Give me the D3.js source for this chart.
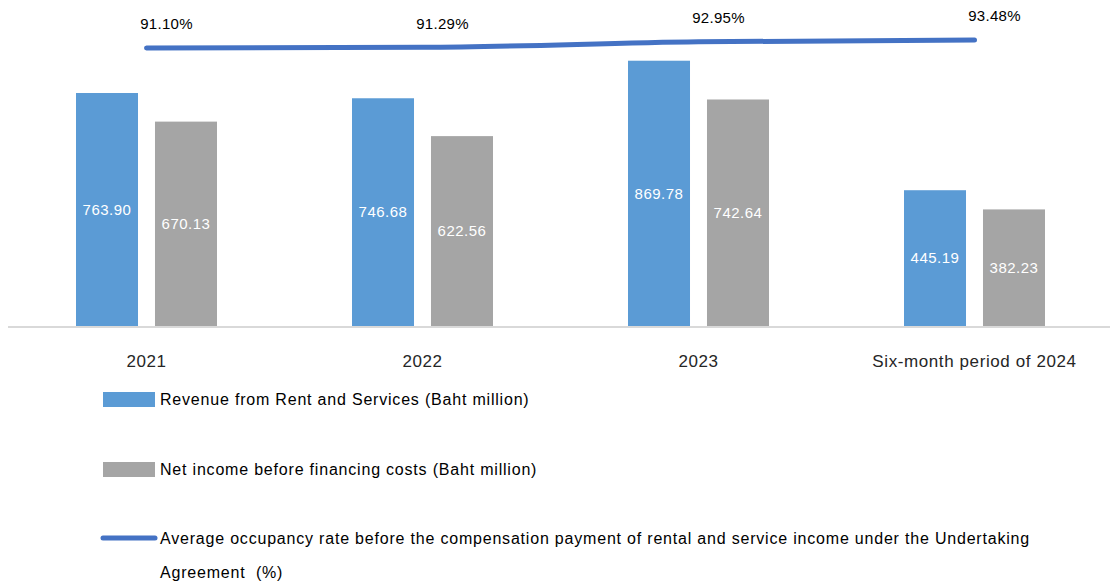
<!DOCTYPE html>
<meta charset="utf-8">
<style>
body { margin: 0; background: #fff; }
text { font-family: "Liberation Sans", Arial, sans-serif; }
</style>
<body>
<div id="chart"></div>
<script src="https://d3js.org/d3.v7.min.js"></script>
<script>
var width = 1110, height = 586;

// data
var categories = ["2021", "2022", "2023", "Six-month period of 2024"];
var revenue = [763.90, 746.68, 869.78, 445.19];
var netIncome = [670.13, 622.56, 742.64, 382.23];
var occupancy = [91.10, 91.29, 92.95, 93.48];
var legendLabels = [
  "Revenue from Rent and Services (Baht million)",
  "Net income before financing costs (Baht million)",
  ["Average occupancy rate before the compensation payment of rental and service income under the Undertaking",
   "Agreement  (%)"]
];

var blue = "#5b9bd5", grey = "#a5a5a5", lineBlue = "#4472c4";

var svg = d3.select("#chart").append("svg")
    .attr("width", width)
    .attr("height", height);

var x0 = d3.scaleBand()
    .domain(categories)
    .range([8.5, 1112.5]);

var x1 = d3.scaleBand()
    .domain(["rev", "net"])
    .range([x0.bandwidth() / 2 - 70.5, x0.bandwidth() / 2 + 70.5])
    .paddingInner(0.215);

var y = d3.scaleLinear()
    .domain([0, 1000])
    .range([326, 21]);

var y2 = d3.scaleLinear()
    .domain([90, 95])
    .range([51.7, 34.9]);

var rows = categories.map(function(c, i) {
  return { cat: c, rev: revenue[i], net: netIncome[i], occ: occupancy[i] };
});

// baseline
svg.append("line")
    .attr("x1", 8).attr("x2", 1110)
    .attr("y1", y(0) + 1).attr("y2", y(0) + 1)
    .attr("stroke", "#d9d9d9")
    .attr("stroke-width", 2);

var groups = svg.selectAll("g.cat")
  .data(rows)
  .enter().append("g")
    .attr("class", "cat")
    .attr("transform", function(d) { return "translate(" + x0(d.cat) + ",0)"; });

var series = [{ key: "rev", color: blue }, { key: "net", color: grey }];

series.forEach(function(s) {
  groups.append("rect")
      .attr("x", x1(s.key))
      .attr("width", x1.bandwidth())
      .attr("y", function(d) { return y(d[s.key]); })
      .attr("height", function(d) { return y(0) - y(d[s.key]); })
      .attr("fill", s.color);

  groups.append("text")
      .attr("x", x1(s.key) + x1.bandwidth() / 2)
      .attr("y", function(d) { return (y(d[s.key]) + y(0)) / 2; })
      .attr("dy", "0.35em")
      .attr("text-anchor", "middle")
      .attr("fill", "#fff")
      .attr("font-size", 15)
      .attr("letter-spacing", 0.5)
      .text(function(d) { return d[s.key].toFixed(2); });
});

// category labels
svg.selectAll("text.cat")
  .data(categories)
  .enter().append("text")
    .attr("class", "cat")
    .attr("x", function(d) { return x0(d) + x0.bandwidth() / 2; })
    .attr("y", 361)
    .attr("dy", "0.35em")
    .attr("text-anchor", "middle")
    .attr("fill", "#262626")
    .attr("font-size", 17)
    .attr("letter-spacing", 0.6)
    .text(function(d) { return d; });

// occupancy line
var line = d3.line()
    .x(function(d) { return x0(d.cat) + x0.bandwidth() / 2; })
    .y(function(d) { return y2(d.occ); })
    .curve(d3.curveMonotoneX);

svg.append("path")
    .datum(rows)
    .attr("d", line)
    .attr("fill", "none")
    .attr("stroke", lineBlue)
    .attr("stroke-width", 5)
    .attr("stroke-linecap", "round");

svg.selectAll("text.occ")
  .data(rows)
  .enter().append("text")
    .attr("class", "occ")
    .attr("x", function(d) { return x0(d.cat) + x0.bandwidth() / 2 + 20; })
    .attr("y", function(d) { return y2(d.occ) - 24; })
    .attr("dy", "0.35em")
    .attr("text-anchor", "middle")
    .attr("fill", "#000")
    .attr("font-size", 15)
    .attr("letter-spacing", 0.3)
    .text(function(d) { return d.occ.toFixed(2) + "%"; });

// legend
var legend = svg.append("g");
var legendY = [399, 469, 538];

legend.append("rect")
    .attr("x", 103).attr("y", legendY[0] - 7)
    .attr("width", 52).attr("height", 15)
    .attr("fill", blue);
legend.append("rect")
    .attr("x", 103).attr("y", legendY[1] - 7)
    .attr("width", 52).attr("height", 15)
    .attr("fill", grey);
legend.append("line")
    .attr("x1", 103).attr("x2", 155)
    .attr("y1", legendY[2]).attr("y2", legendY[2])
    .attr("stroke", lineBlue)
    .attr("stroke-width", 5)
    .attr("stroke-linecap", "round");

legendLabels.forEach(function(l, i) {
  var lines = Array.isArray(l) ? l : [l];
  lines.forEach(function(t, j) {
    legend.append("text")
        .attr("x", 160)
        .attr("y", legendY[i] + j * 34)
        .attr("dy", "0.35em")
        .attr("fill", "#000")
        .attr("font-size", 16)
        .attr("letter-spacing", 0.8)
        .style("white-space", "pre")
        .text(t);
  });
});
</script>
</body>
